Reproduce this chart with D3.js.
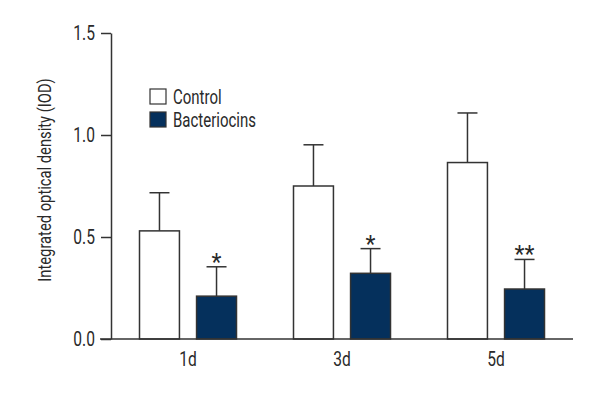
<!DOCTYPE html>
<html>
<head>
<meta charset="utf-8">
<script src="https://cdn.jsdelivr.net/npm/d3@7"></script>
<style>
  body { margin: 0; background: #fff; }
  text { font-family: Roboto, "Liberation Sans", sans-serif; fill: #2a2a2a; }
</style>
</head>
<body>
<svg width="600" height="400"></svg>
<script>
var days = ["1d", "3d", "5d"];
var groups = ["Control", "Bacteriocins"];
var controlMean = [0.53, 0.75, 0.865];
var controlErr = [0.717, 0.952, 1.108];
var bactMean = [0.21, 0.322, 0.245];
var bactErr = [0.354, 0.443, 0.39];
var stars = ["*", "*", "**"];
var yTicks = [0.0, 0.5, 1.0, 1.5];

var svg = d3.select("svg");
var mLeft = 111, mRight = 573, mTop = 33, mBottom = 339;
var squeeze = 0.78; // the original uses a condensed face

var x0 = d3.scaleBand().domain(days).range([mLeft, mRight]).padding(0);
var x1 = d3.scaleBand().domain(groups).range([0, 97]).paddingInner(0.3).paddingOuter(0);
var y = d3.scaleLinear().domain([0, 1.5]).range([mBottom, mTop]);

var fills = { "Control": "#ffffff", "Bacteriocins": "#05305c" };

var data = [];
days.forEach(function(d, i) {
  data.push({ day: d, group: "Control", v: controlMean[i], e: controlErr[i], star: "" });
  data.push({ day: d, group: "Bacteriocins", v: bactMean[i], e: bactErr[i], star: stars[i] });
});

function cx(d) {
  return x0(d.day) + (x0.bandwidth() - 97) / 2 + x1(d.group) + x1.bandwidth() / 2;
}

// move x/y into a transform so the text can be narrowed in place
function condense(sel, sx) {
  sel.each(function() {
    var t = d3.select(this);
    var tx = +t.attr("x") || 0, ty = +t.attr("y") || 0;
    t.attr("x", 0).attr("y", 0)
      .attr("transform", "translate(" + tx + "," + ty + ") scale(" + sx + ",1)");
  });
}

// error bars
svg.selectAll(".err").data(data).enter().append("line")
  .attr("x1", cx).attr("x2", cx)
  .attr("y1", function(d) { return y(d.v); })
  .attr("y2", function(d) { return y(d.e); })
  .attr("stroke", "#333").attr("stroke-width", 1.5);
svg.selectAll(".cap").data(data).enter().append("line")
  .attr("x1", function(d) { return cx(d) - 10; })
  .attr("x2", function(d) { return cx(d) + 10; })
  .attr("y1", function(d) { return y(d.e); })
  .attr("y2", function(d) { return y(d.e); })
  .attr("stroke", "#333").attr("stroke-width", 1.5);

// bars
svg.selectAll(".bar").data(data).enter().append("rect")
  .attr("x", function(d) { return cx(d) - x1.bandwidth() / 2; })
  .attr("y", function(d) { return y(d.v); })
  .attr("width", x1.bandwidth())
  .attr("height", function(d) { return y(0) - y(d.v); })
  .attr("fill", function(d) { return fills[d.group]; })
  .attr("stroke", "#333").attr("stroke-width", 1.5);

// significance stars
svg.selectAll(".star").data(data.filter(function(d) { return d.star; })).enter().append("text")
  .attr("x", cx)
  .attr("y", function(d) { return y(d.e) + 3; })
  .attr("text-anchor", "middle")
  .style("font-size", "23px")
  .text(function(d) { return d.star; });

// y axis
var yAxis = svg.append("g")
  .attr("transform", "translate(" + mLeft + ",0)")
  .call(d3.axisLeft(y).tickValues(yTicks).tickFormat(d3.format(".1f")).tickSize(10).tickSizeOuter(0).tickPadding(6));
yAxis.select(".domain").attr("stroke", "#333").attr("stroke-width", 1.5);
yAxis.selectAll(".tick line").attr("stroke", "#333").attr("stroke-width", 1.5);
yAxis.selectAll(".tick text").style("font-size", "20px").style("font-family", null).attr("fill", "#2a2a2a")
  .call(condense, squeeze);

// x axis
var xAxis = svg.append("g")
  .attr("transform", "translate(0," + mBottom + ")")
  .call(d3.axisBottom(x0).tickSize(0).tickPadding(13));
xAxis.select(".domain").attr("d", "M" + (mLeft - 11) + ",0H" + mRight).attr("stroke", "#333").attr("stroke-width", 1.5);
xAxis.selectAll(".tick text").style("font-size", "20px").style("font-family", null).attr("fill", "#2a2a2a")
  .call(condense, squeeze);

// y label
svg.append("text")
  .attr("transform", "translate(51,180) rotate(-90) scale(0.82,1)")
  .attr("text-anchor", "middle")
  .style("font-size", "18px")
  .text("Integrated optical density (IOD)");

// legend
var legend = svg.selectAll(".legend").data(groups).enter().append("g")
  .attr("transform", function(d, i) { return "translate(150," + (89 + i * 23) + ")"; });
legend.append("rect")
  .attr("width", 16).attr("height", 15)
  .attr("fill", function(d) { return fills[d]; })
  .attr("stroke", "#333").attr("stroke-width", 1.2);
legend.append("text")
  .attr("x", 23).attr("y", 15)
  .style("font-size", "20px")
  .text(function(d) { return d; })
  .call(condense, 0.75);
</script>
</body>
</html>
